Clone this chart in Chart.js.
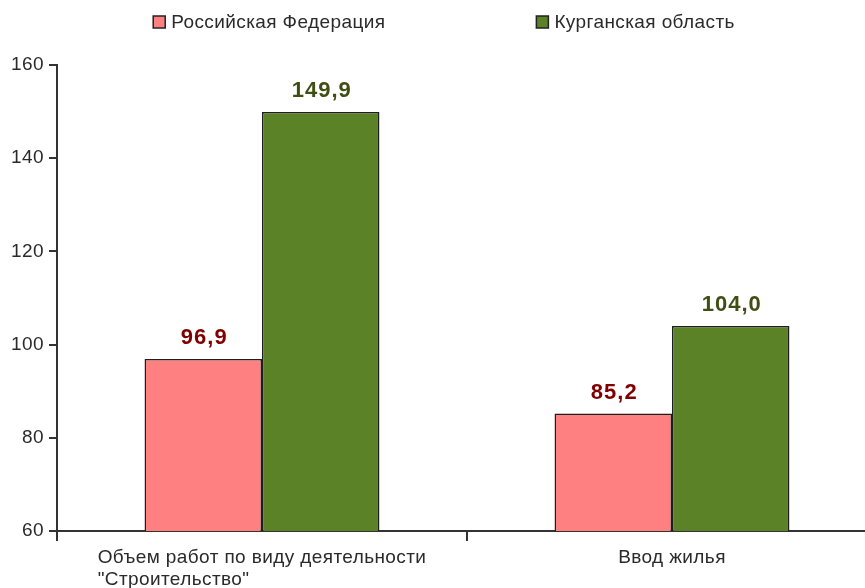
<!DOCTYPE html>
<html>
<head>
<meta charset="utf-8">
<script src="https://cdn.jsdelivr.net/npm/chart.js@4/dist/chart.umd.min.js"></script>
<style>
  html, body { margin: 0; padding: 0; background: #fff; overflow: hidden; }
  #wrap { width: 888px; height: 588px; }
</style>
</head>
<body>
<div id="wrap"><canvas id="c" width="888" height="588"></canvas></div>
<script>
const categories = [
  ['Объем работ по виду деятельности', '"Строительство"'],
  ['Ввод жилья']
];
const seriesNames = ['Российская Федерация', 'Курганская область'];
const rfValues = [96.9, 85.2];
const kurganValues = [149.9, 104.0];
const yTicks = [60, 80, 100, 120, 140, 160];

const FONT = '"Liberation Sans", Arial, sans-serif';
const TEXT = '#2a2a2a';
const fill = ['#ff8080', '#5b8226'];
const labelColors = ['#800000', '#3f4e12'];

const spacingPlugin = {
  id: 'spacing',
  beforeDraw(chart) { chart.ctx.letterSpacing = '0.4px'; }
};

const legendPlugin = {
  id: 'customLegend',
  afterDraw(chart) {
    const ctx = chart.ctx;
    ctx.save();
    ctx.letterSpacing = '0.4px';
    ctx.font = '19px ' + FONT;
    const box = 12, gapText = 6, gapItems = 151;
    const widths = seriesNames.map(n => box + gapText + ctx.measureText(n).width);
    const total = widths[0] + gapItems + widths[1];
    let x = chart.width / 2 - total / 2;
    const cy = 22;
    seriesNames.forEach((n, i) => {
      ctx.fillStyle = fill[i];
      ctx.fillRect(x, cy - box / 2, box, box);
      ctx.strokeStyle = '#222';
      ctx.lineWidth = 1.5;
      ctx.strokeRect(x, cy - box / 2, box, box);
      ctx.fillStyle = TEXT;
      ctx.textBaseline = 'middle';
      ctx.textAlign = 'left';
      ctx.fillText(n, x + box + gapText, cy + 1);
      x += widths[i] + gapItems;
    });
    ctx.restore();
  }
};

const valueLabelPlugin = {
  id: 'valueLabels',
  afterDatasetsDraw(chart) {
    const ctx = chart.ctx;
    ctx.save();
    ctx.letterSpacing = '1px';
    ctx.font = 'bold 22px ' + FONT;
    ctx.textAlign = 'center';
    ctx.textBaseline = 'middle';
    chart.data.datasets.forEach((ds, di) => {
      chart.getDatasetMeta(di).data.forEach((bar, i) => {
        ctx.fillStyle = labelColors[di];
        ctx.fillText(ds.data[i].toFixed(1).replace('.', ','), bar.x + 1, bar.y - 21);
      });
    });
    ctx.restore();
  }
};

const xLabelPlugin = {
  id: 'xLabels',
  afterDraw(chart) {
    const ctx = chart.ctx;
    const xs = chart.scales.x;
    ctx.save();
    ctx.letterSpacing = '0.4px';
    ctx.font = '19px ' + FONT;
    ctx.fillStyle = TEXT;
    ctx.textBaseline = 'middle';
    ctx.textAlign = 'left';
    categories.forEach((lines, i) => {
      const cx = xs.getPixelForValue(i);
      const w = Math.max(...lines.map(l => ctx.measureText(l).width));
      const left = cx - w / 2;
      lines.forEach((l, k) => {
        ctx.fillText(l, left, chart.chartArea.bottom + 27 + k * 22);
      });
    });
    ctx.restore();
  }
};

new Chart(document.getElementById('c'), {
  type: 'bar',
  data: {
    labels: categories,
    datasets: [
      { label: seriesNames[0], data: rfValues, backgroundColor: fill[0], borderColor: '#1e1e1e', borderWidth: 1.5, borderSkipped: false },
      { label: seriesNames[1], data: kurganValues, backgroundColor: fill[1], borderColor: '#1e1e1e', borderWidth: 1.5, borderSkipped: false }
    ]
  },
  options: {
    responsive: false,
    animation: false,
    layout: { padding: { top: 65, right: 11, bottom: 47, left: 0 } },
    datasets: { bar: { categoryPercentage: 0.573, barPercentage: 1 } },
    plugins: { legend: { display: false }, tooltip: { enabled: false } },
    scales: {
      x: {
        offset: true,
        grid: { offset: true, drawOnChartArea: false, drawTicks: true, tickLength: 10, color: '#333', lineWidth: 2 },
        border: { color: '#333', width: 2 },
        ticks: { display: false }
      },
      y: {
        min: 60, max: 160,
        afterBuildTicks: s => { s.ticks = yTicks.map(v => ({ value: v })); },
        afterFit: s => { s.width = 57; },
        grid: { drawOnChartArea: false, drawTicks: true, tickLength: 8, color: '#333', lineWidth: 2 },
        border: { color: '#333', width: 2 },
        ticks: { padding: 5, color: TEXT, font: { family: FONT, size: 19 } }
      }
    }
  },
  plugins: [spacingPlugin, legendPlugin, valueLabelPlugin, xLabelPlugin]
});
</script>
</body>
</html>
